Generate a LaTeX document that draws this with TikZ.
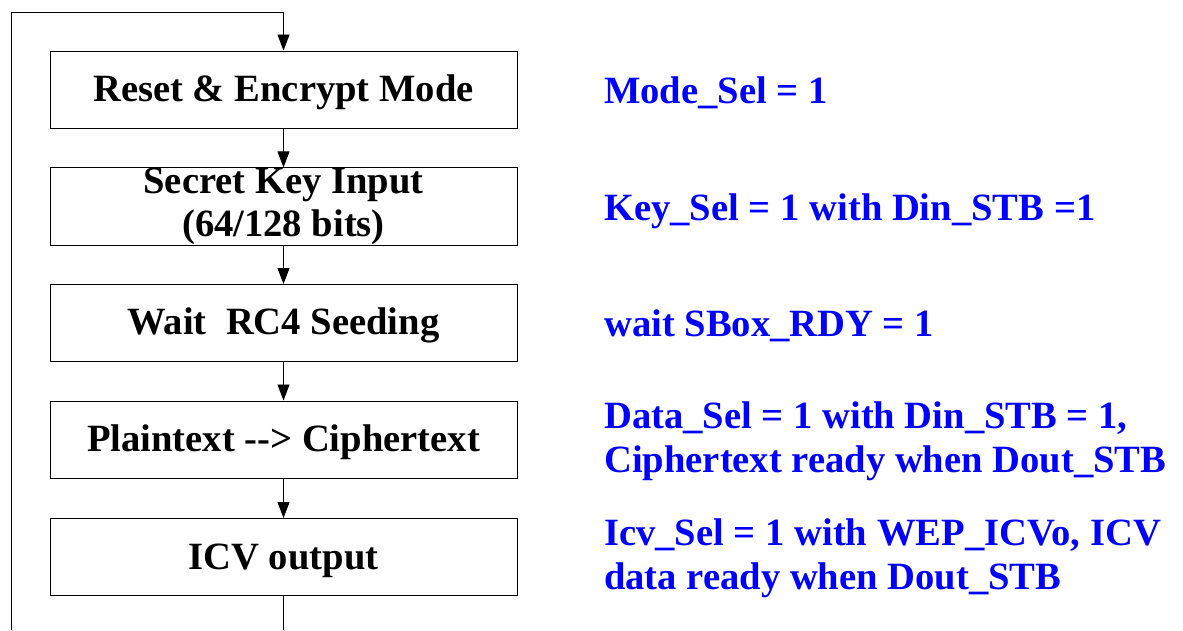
\documentclass[tikz,border=0pt]{standalone}
\usepackage{fontspec}
\setmainfont{Liberation Serif}
\usetikzlibrary{arrows.meta}
% taller first line so the text sits slightly low in its box
\newcommand\boxstrut{\rule{0pt}{32.5pt}}
\begin{document}
\begin{tikzpicture}[x=1pt,y=-1pt,
  stepbox/.style={draw, line width=1pt, minimum width=467pt, minimum height=77pt,
    inner sep=0pt, align=center, font=\fontsize{38.6}{43.5}\selectfont\bfseries},
  note/.style={anchor=west, inner sep=0pt, text=blue, align=left,
    font=\fontsize{38.6}{43.5}\selectfont\bfseries},
  flow/.style={-{Triangle[length=16pt,width=12pt]}, line width=0.9pt},
  wire/.style={line width=0.9pt}]
\useasboundingbox (0,0) rectangle (1183,630);

% process steps
\node[stepbox] (b1) at (283.5,89.5)  {\boxstrut Reset \& Encrypt Mode};
\node[stepbox] (b2) at (283.5,206.5) {Secret Key Input\\(64/128 bits)};
\node[stepbox] (b3) at (283.5,323)   {\boxstrut Wait\ \ RC4 Seeding};
\node[stepbox] (b4) at (283.5,439.5) {\boxstrut Plaintext -{}-> Ciphertext};
\node[stepbox] (b5) at (283.5,557)   {\boxstrut ICV output};

% control signal notes
\node[note] (n1) at (604,93)    {Mode\_Sel = 1};
\node[note] (n2) at (604,211)   {Key\_Sel = 1 with Din\_STB =1};
\node[note] (n3) at (604,326)   {wait SBox\_RDY = 1};
\node[note] (n4) at (604,441.5) {Data\_Sel = 1 with Din\_STB = 1,\\Ciphertext ready when Dout\_STB};
\node[note] (n5) at (604,558.5) {Icv\_Sel = 1 with WEP\_ICVo, ICV\\data ready when Dout\_STB};

% sequence arrows
\draw[flow] (b1) -- (b2);
\draw[flow] (b2) -- (b3);
\draw[flow] (b3) -- (b4);
\draw[flow] (b4) -- (b5);

% loop back to the first step
\coordinate (tl) at (11.5,12.5);
\coordinate (bl) at (11.5,630);
\coordinate (bot) at (283.5,630);
\draw[wire] (b5.south) -- (bot);
\draw[flow] (bl) -- (tl) -- (tl -| b1.north) -- (b1.north);
\end{tikzpicture}
\end{document}
